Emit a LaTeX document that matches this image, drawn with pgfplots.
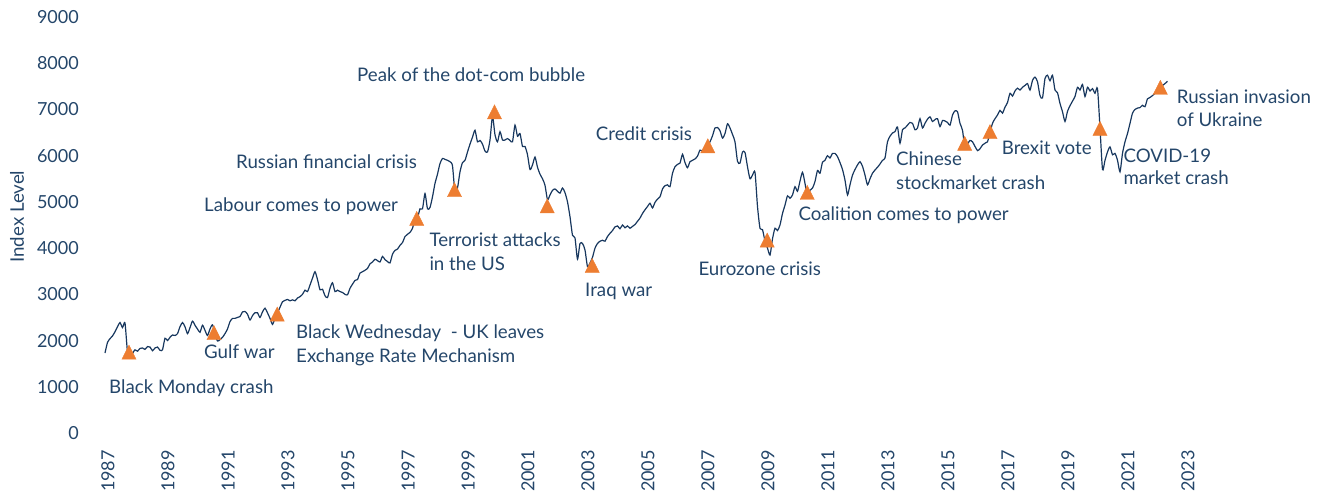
\documentclass[border=0pt]{standalone}
\usepackage{pgfplots}
\pgfplotsset{compat=1.18}
\usepackage{fontspec}
\setmainfont{Lato}
\definecolor{txt}{HTML}{24466A}
\definecolor{ln}{HTML}{17375E}
\definecolor{org}{HTML}{ED7D31}
\newcommand\fs{\fontsize{18bp}{22bp}\selectfont}
\newcommand\fa{\fontsize{18.7bp}{22bp}\selectfont}
\begin{document}
\begin{tikzpicture}
\begin{axis}[
  scale only axis, width=1325bp, height=493bp,
  xmin=1983.5, xmax=2027.6667, ymin=-1298.2, ymax=9368.4,
  clip=false,
  axis line style={draw=none}, tick style={draw=none},
  xtick={1987,1989,...,2023},
  xticklabels={1987,1989,1991,1993,1995,1997,1999,2001,2003,2005,2007,2009,2011,2013,2015,2017,2019,2021,2023},
  ytick={0,1000,...,9000},
  yticklabels={0,1000,2000,3000,4000,5000,6000,7000,8000,9000},
  tick label style={font=\fs, text=txt, inner sep=0pt},
  xticklabel style={yshift=43bp, xshift=3bp, rotate=90, anchor=east},
  yticklabel style={xshift=79bp, anchor=east},
]
\addplot[ln, line width=1.2bp, smooth, tension=0.4, mark=none]
  table[row sep=\\, header=false, x expr=1987+\coordindex/12, y index=0] {
1730\\1960\\2040\\2100\\2190\\2300\\2390\\2280\\2380\\1750\\1620\\1720\\
1800\\1770\\1830\\1840\\1810\\1870\\1860\\1780\\1840\\1860\\1790\\1800\\
2050\\2000\\2070\\2120\\2110\\2150\\2300\\2390\\2300\\2150\\2280\\2420\\
2330\\2250\\2180\\2330\\2220\\2110\\2250\\2340\\2150\\1990\\2020\\2070\\
2150\\2250\\2410\\2480\\2480\\2500\\2520\\2620\\2630\\2570\\2445\\2540\\
2600\\2600\\2500\\2620\\2700\\2600\\2480\\2350\\2480\\2600\\2720\\2840\\
2870\\2890\\2860\\2880\\2860\\2920\\2950\\3000\\3090\\3060\\3200\\3350\\
3490\\3320\\3100\\3110\\2970\\2930\\3130\\3250\\3060\\3090\\3060\\3040\\
3000\\2990\\3130\\3220\\3300\\3320\\3460\\3490\\3520\\3560\\3660\\3700\\
3760\\3730\\3700\\3820\\3750\\3710\\3680\\3870\\3950\\3980\\4060\\4120\\
4250\\4300\\4340\\4430\\4620\\4650\\4850\\4850\\5180\\4850\\4880\\5110\\
5400\\5600\\5830\\5940\\5920\\5900\\5870\\5780\\5200\\5300\\5650\\5850\\
5900\\6080\\6250\\6400\\6550\\6300\\6330\\6250\\6100\\6080\\6340\\6850\\
6450\\6300\\6520\\6340\\6340\\6370\\6330\\6300\\6660\\6420\\6480\\6200\\
6200\\6020\\5700\\5800\\5970\\5750\\5600\\5500\\5360\\5050\\5150\\5250\\
5280\\5230\\5190\\5300\\5200\\5000\\4680\\4280\\4220\\3760\\4100\\4100\\
3960\\3600\\3680\\3800\\4000\\4100\\4150\\4170\\4150\\4250\\4320\\4380\\
4460\\4480\\4420\\4500\\4440\\4480\\4430\\4470\\4510\\4580\\4650\\4750\\
4830\\4900\\4970\\4870\\4990\\5060\\5110\\5280\\5350\\5370\\5330\\5620\\
5760\\5810\\5840\\6030\\5850\\5740\\5870\\5900\\5930\\5990\\6120\\6100\\
6180\\6220\\6300\\6430\\6600\\6610\\6540\\6380\\6480\\6690\\6600\\6460\\
6300\\5880\\5840\\6080\\6070\\5760\\5500\\5580\\5640\\4900\\4430\\4400\\
4150\\4000\\3850\\4200\\4430\\4380\\4500\\4750\\4930\\5130\\5080\\5150\\
5330\\5230\\5450\\5640\\5400\\5100\\5250\\5300\\5440\\5680\\5620\\5860\\
5900\\6000\\5950\\6050\\6050\\5980\\5850\\5700\\5470\\5150\\5370\\5580\\
5700\\5800\\5870\\5770\\5580\\5370\\5500\\5620\\5690\\5750\\5820\\5900\\
5950\\6300\\6420\\6490\\6520\\6620\\6270\\6560\\6600\\6660\\6720\\6700\\
6560\\6600\\6800\\6600\\6700\\6790\\6840\\6740\\6780\\6800\\6630\\6760\\
6750\\6720\\6660\\6880\\6970\\6950\\6700\\6550\\6150\\6250\\6330\\6300\\
6200\\6110\\6150\\6230\\6270\\6300\\6500\\6700\\6800\\6880\\6980\\6920\\
7050\\7150\\7350\\7290\\7400\\7460\\7420\\7480\\7520\\7560\\7420\\7630\\
7700\\7600\\7300\\7250\\7670\\7740\\7620\\7740\\7420\\7360\\7130\\6950\\
6740\\6960\\7080\\7180\\7280\\7480\\7420\\7540\\7280\\7480\\7400\\7450\\
7350\\7450\\6600\\5700\\5900\\6080\\6190\\6020\\6050\\5900\\5650\\6050\\
6300\\6480\\6700\\6920\\7000\\7030\\7040\\7090\\7060\\7230\\7260\\7300\\
7350\\7400\\7460\\7520\\7560\\7610\\
};
\addplot[only marks, mark=triangle*, mark size=8.2bp, color=org, mark options={yscale=1.15}]
  coordinates {
  (1987.8,1698) (1990.633,2120) (1992.74,2521) (1997.39,4591) (1998.65,5214)
  (1999.983,6897) (2001.74,4862) (2003.24,3574) (2007.093,6162) (2009.073,4122)
  (2010.407,5154) (2015.657,6216) (2016.5,6469) (2020.167,6538) (2022.177,7426)
  };
\begin{scope}[every node/.style={anchor=base west, font=\fa, text=txt, inner sep=0pt}]
\node at (axis cs:1987.133,859) {Black Monday crash};
\node at (axis cs:1990.3,1616) {Gulf war};
\node at (axis cs:1993.367,2034) {Black Wednesday\ \ - UK leaves};
\node at (axis cs:1993.367,1521) {Exchange Rate Mechanism};
\node at (axis cs:1990.3,4803) {Labour comes to power};
\node at (axis cs:1991.367,5727) {Russian financial crisis};
\node at (axis cs:1995.4,7601) {Peak of the dot-com bubble};
\node at (axis cs:1997.81,4031) {Terrorist attacks};
\node at (axis cs:1997.81,3512) {in the US};
\node at (axis cs:2003.0,2964) {Iraq war};
\node at (axis cs:2003.357,6318) {Credit crisis};
\node at (axis cs:2006.777,3418) {Eurozone crisis};
\node at (axis cs:2010.11,4608) {Coalition comes to power};
\node at (axis cs:2013.367,5798) {Chinese};
\node at (axis cs:2013.367,5273) {stockmarket crash};
\node at (axis cs:2016.89,6036) {Brexit vote};
\node at (axis cs:2020.943,5857) {COVID-19};
\node at (axis cs:2020.943,5366) {market crash};
\node at (axis cs:2022.723,7133) {Russian invasion};
\node at (axis cs:2022.723,6627) {of Ukraine};
\end{scope}
\node[rotate=90, font=\fa, text=txt, inner sep=0pt] at (axis cs:1984.067,4680) {Index Level};
\end{axis}
\pgfresetboundingbox
\path (current axis.south west) rectangle (current axis.north east);
\end{tikzpicture}
\end{document}
